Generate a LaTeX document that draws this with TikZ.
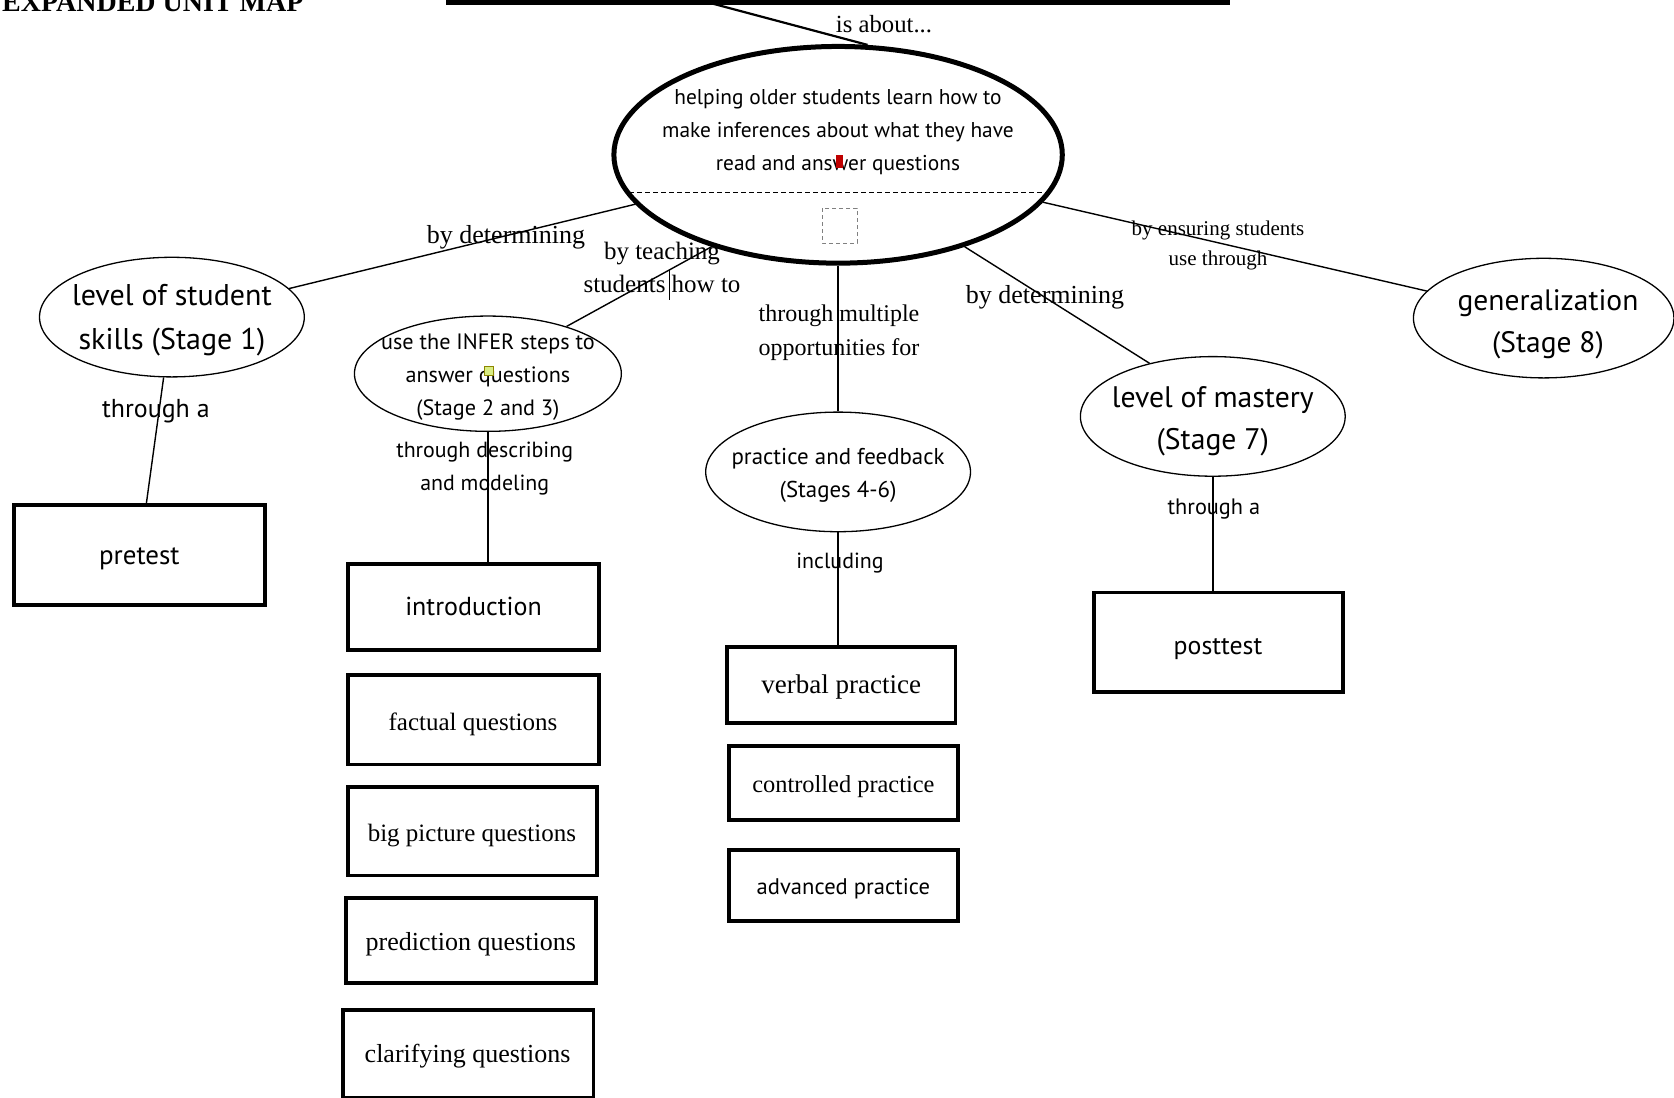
\documentclass[tikz,border=0pt]{standalone}
\usepackage{fontspec}
\setmainfont{Liberation Serif}
\newfontfamily\cfont{PT Sans}
\usetikzlibrary{shapes.geometric}
\tikzset{
  ell/.style={draw, ellipse, line width=1.3pt, inner sep=0pt},
  bigell/.style={draw, ellipse, line width=5pt, inner sep=0pt},
  box/.style={draw, rectangle, line width=3.8pt, inner sep=0pt},
  conn/.style={line width=1.4pt},
  lbl/.style={inner sep=0pt, align=center, text height=0.7em, text depth=0.2em, yshift=-6.4pt},
  mlbl/.style={inner sep=0pt, align=center, yshift=-3pt},
  sf/.style={font=\cfont\fontsize{#1}{#1}\selectfont},
  sfl/.style 2 args={font=\cfont\fontsize{#1}{#2}\selectfont},
  rm/.style={font=\fontsize{#1}{#1}\selectfont},
  rml/.style 2 args={font=\fontsize{#1}{#2}\selectfont},
}
\begin{document}
\begin{tikzpicture}[x=1pt,y=-1pt]
\useasboundingbox (0,0) rectangle (1674,1098);
% title and top box edge
\node[inner sep=0pt, anchor=base west, font=\bfseries\fontsize{28}{28}\selectfont] (title) at (2,11) {EXPANDED UNIT MAP};
\fill (446,0) rectangle (1230,4.5);
\coordinate (topc) at (699,0);
% main ellipse
\node[bigell, minimum width=448.4pt, minimum height=216.7pt] (main) at (838.1,154.8) {};
\draw[line width=1pt, dash pattern=on 5pt off 3pt] (629,192.2) -- (1047,192.2);
\draw[line width=0.8pt, gray, dash pattern=on 4pt off 3pt] (822,208) rectangle (857,243);
\node[mlbl, sfl={21.4}{33.1}] (maintxt) at (838,129.2) {helping older students learn how to\\make inferences about what they have\\read and answer questions};
\fill[red!75!black] (836,155) rectangle (843,168);
\draw[line width=2.2pt] (topc) -- (main.75);
\node[lbl, rm={24.7}] (isabout) at (884,23.5) {is about...};
% left: level of student skills
\node[ell, minimum width=264.8pt, minimum height=119.6pt] (l1) at (171.9,317.1) {};
\node[mlbl, sfl={30}{43.8}] (l1txt) at (171.9,317.6) {level of student\\skills (Stage 1)};
\draw[conn] (main) -- (l1);
\node[lbl, rm={26}] (bydet1) at (506,234.9) {by determining};
\node[box, minimum width=250.9pt, minimum height=100.3pt] (pre) at (139.3,555.1) {};
\node[lbl, sf={27}] at (pre) {pretest};
\draw[conn] (l1) -- (pre);
\node[lbl, sf={25.9}] (thr1) at (155.9,408.9) {through a};
% INFER
\node[ell, minimum width=266.9pt, minimum height=115.3pt] (infer) at (487.9,373.7) {};
\node[mlbl, sfl={22.2}{32.6}] (infertxt) at (487.9,374) {use the INFER steps to\\answer questions\\(Stage 2 and 3)};
\draw[line width=0.8pt, draw=olive, fill=yellow!70!green!50] (484,366) rectangle (493,375);
\draw[conn] (main.216) -- (infer.31);
\node[mlbl, rml={25}{33.1}, yshift=3pt] (byteach) at (662,267.4) {by teaching\\students how to};
\coordinate (bara) at (669.4,270);
\coordinate (barb) at (669.4,300);
\draw[conn] (bara) -- (barb);
\node[mlbl, sfl={21.9}{33.1}] (thrdesc) at (484.7,466) {through describing\\and modeling};
\node[box, minimum width=250.9pt, minimum height=86.5pt] (intro) at (473.5,606.9) {};
\node[lbl, sf={26}] at (intro) {introduction};
\draw[conn] (infer.south) -- (infer.south |- intro.north);
\node[box, minimum width=250.9pt, minimum height=89.7pt] (fact) at (473.5,719.6) {};
\node[lbl, rm={25}] at (473,721.7) {factual questions};
\node[box, minimum width=248.8pt, minimum height=88.6pt] (big) at (472.4,831.1) {};
\node[lbl, rm={25}] at (471.9,832.7) {big picture questions};
\node[box, minimum width=249.8pt, minimum height=85.4pt] (pred) at (470.8,940.6) {};
\node[lbl, rm={26}] at (470.8,941.6) {prediction questions};
\node[box, minimum width=250.9pt, minimum height=87.5pt] (clar) at (468.1,1053.7) {};
\node[lbl, rm={26}] at (467.6,1053.7) {clarifying questions};
% practice
\node[ell, minimum width=264.8pt, minimum height=119.6pt] (prac) at (838.1,471.9) {};
\node[mlbl, sfl={22.9}{33.1}] (practxt) at (838.1,472.4) {practice and feedback\\(Stages 4-6)};
\draw[conn] (main) -- (prac);
\node[mlbl, rml={24}{34.2}] (thrmult) at (839,330) {through multiple\\opportunities for};
\node[box, minimum width=228.5pt, minimum height=75.8pt] (verb) at (841.3,684.9) {};
\node[lbl, rm={27}] at (verb) {verbal practice};
\draw[conn] (prac) -- (prac |- verb.north);
\node[lbl, sf={21.9}] (incl) at (840,559.4) {including};
\node[box, minimum width=228.4pt, minimum height=73.6pt] (ctrl) at (843.4,783.1) {};
\node[lbl, rm={24.4}] at (ctrl) {controlled practice};
\node[box, minimum width=228.4pt, minimum height=71.5pt] (adv) at (843.4,885.6) {};
\node[lbl, sf={22.6}] at (adv) {advanced practice};
% mastery
\node[ell, minimum width=264.8pt, minimum height=119.6pt] (mast) at (1212.8,416.4) {};
\node[mlbl, sfl={29.7}{42.7}] (masttxt) at (1212.8,418.4) {level of mastery\\(Stage 7)};
\draw[conn] (main.-36) -- (mast.140);
\node[lbl, rm={26}] (bydet2) at (1045,294.7) {by determining};
\node[box, minimum width=248.7pt, minimum height=99.3pt] (post) at (1218.6,642.2) {};
\node[lbl, sf={25.8}] at (1218,645.9) {posttest};
\draw[conn] (mast.south) -- (mast.south |- post.north);
\node[lbl, sf={22.3}] (thr2) at (1213.9,506) {through a};
% generalization
\node[ell, minimum width=260.5pt, minimum height=119.6pt] (gen) at (1543.7,318.1) {};
\node[mlbl, sfl={29.5}{42.7}] (gentxt) at (1548,321.3) {generalization\\(Stage 8)};
\draw[conn] (main) -- (gen);
\node[mlbl, rml={21}{29.9}] (byens) at (1218,242.3) {by ensuring students\\use through};
\end{tikzpicture}
\end{document}
